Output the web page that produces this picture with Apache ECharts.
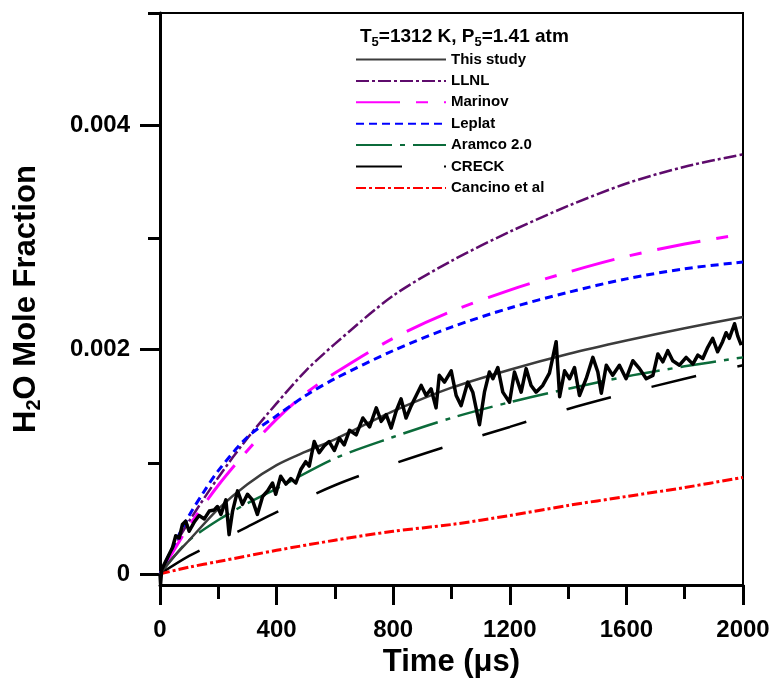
<!DOCTYPE html>
<html>
<head>
<meta charset="utf-8">
<script src="https://cdn.jsdelivr.net/npm/echarts@6/dist/echarts.min.js"></script>
<style>html,body{margin:0;padding:0;background:#fff}#c{width:777px;height:683px}</style>
</head>
<body>
<div id="c"></div>
<script>
// ---- data ----
const xMajorTicks = [0, 400, 800, 1200, 1600, 2000];
const xMinorTicks = [200, 600, 1000, 1400, 1800];
const yMajorTicks = [0, 0.002, 0.004];
const yMinorTicks = [0.001, 0.003, 0.005];

const thisStudy = [[0,0],[50,0.00016],[100,0.0003],[200,0.00058],[300,0.0008],[400,0.00097],[500,0.00109],[600,0.0012],[800,0.00145],[1000,0.00166],[1200,0.00182],[1400,0.00196],[1600,0.00208],[1800,0.00219],[2000,0.00229]];
const llnl = [[0,0],[50,0.00025],[100,0.00047],[200,0.00086],[300,0.00121],[400,0.00152],[500,0.00181],[600,0.00205],[800,0.00248],[1000,0.00279],[1200,0.00305],[1400,0.00328],[1600,0.00348],[1800,0.00363],[2000,0.00374]];
const marinov = [[0,0],[50,0.00022],[100,0.00043],[200,0.00079],[300,0.0011],[400,0.00138],[500,0.00161],[600,0.00179],[800,0.0021],[1000,0.00234],[1200,0.00253],[1400,0.00269],[1600,0.00283],[1800,0.00294],[2000,0.00303]];
const leplat = [[0,0],[50,0.00027],[100,0.00052],[150,0.00073],[200,0.00092],[300,0.00122],[400,0.00141],[500,0.00159],[600,0.00174],[800,0.00199],[1000,0.0022],[1200,0.00237],[1400,0.00251],[1600,0.00263],[1800,0.00272],[2000,0.00278]];
const aramco = [[0,0],[50,0.00016],[100,0.0003],[200,0.00048],[300,0.00063],[400,0.00076],[600,0.00103],[800,0.00122],[1000,0.00139],[1200,0.00153],[1400,0.00165],[1600,0.00176],[1800,0.00185],[2000,0.00193]];
const creck = [[0,0],[100,0.00016],[200,0.00029],[300,0.00042],[400,0.00055],[600,0.00079],[800,0.00098],[1000,0.00115],[1200,0.00131],[1400,0.00147],[1600,0.00161],[1800,0.00174],[2000,0.00186]];
const cancino = [[0,0],[100,0.00006],[200,0.00011],[400,0.00021],[600,0.0003],[800,0.00038],[1000,0.00044],[1200,0.00052],[1400,0.00061],[1600,0.00069],[1800,0.00077],[2000,0.00086]];
const experiment = [[0,0],[2,-0.00009],[6,0.00004],[26,0.000146],[43,0.000235],[54,0.00034],[66,0.00032],[77,0.00044],[88,0.00047],[100,0.00038],[117,0.00046],[134,0.00052],[152,0.00049],[169,0.00056],[186,0.00057],[197,0.0006],[209,0.00053],[226,0.00066],[237,0.00035],[249,0.00056],[266,0.00074],[283,0.00062],[300,0.00071],[317,0.00066],[334,0.00053],[352,0.00069],[369,0.00074],[386,0.00081],[397,0.00071],[414,0.00087],[432,0.0008],[449,0.00085],[466,0.00081],[483,0.00093],[500,0.001],[512,0.00096],[529,0.00118],[546,0.00108],[563,0.00114],[580,0.00118],[598,0.0011],[615,0.00121],[632,0.00115],[650,0.00128],[673,0.00124],[696,0.00139],[719,0.00131],[742,0.00148],[759,0.00136],[776,0.00142],[793,0.0013],[810,0.00145],[827,0.00156],[844,0.00139],[862,0.0015],[879,0.00159],[896,0.00168],[913,0.00159],[930,0.00165],[947,0.00148],[958,0.00177],[976,0.00171],[999,0.00181],[1016,0.00159],[1033,0.0015],[1056,0.00171],[1073,0.00162],[1096,0.00133],[1113,0.00162],[1130,0.0018],[1142,0.00174],[1159,0.00184],[1176,0.00162],[1199,0.00153],[1216,0.0018],[1239,0.00162],[1256,0.00183],[1273,0.00168],[1290,0.00162],[1313,0.00168],[1336,0.00179],[1359,0.00207],[1371,0.00158],[1388,0.00181],[1405,0.00174],[1422,0.00184],[1439,0.00159],[1462,0.00174],[1485,0.00193],[1502,0.0018],[1514,0.00161],[1531,0.00186],[1553,0.00177],[1576,0.00186],[1599,0.00174],[1622,0.0019],[1645,0.00183],[1668,0.00174],[1691,0.00177],[1708,0.00196],[1725,0.00189],[1742,0.00199],[1759,0.0019],[1782,0.00186],[1805,0.00193],[1828,0.00187],[1845,0.00195],[1862,0.00192],[1879,0.00202],[1896,0.0021],[1913,0.00198],[1930,0.00207],[1942,0.00215],[1953,0.0021],[1971,0.00223],[1982,0.00212],[1994,0.00204]];

const legendNames = ['This study','LLNL','Marinov','Leplat','Aramco 2.0','CRECK','Cancino et al'];

// ---- chart ----
const FONT = '"Liberation Sans", Arial, sans-serif';
const chart = echarts.init(document.getElementById('c'), null, {renderer: 'canvas'});
const gridRect = {left: 160, right: 34, top: 13, bottom: 96};

function line(name, data, color, width, dash, z, smooth) {
  return {
    name: name, type: 'line', data: data, xAxisIndex: 0, yAxisIndex: 0,
    showSymbol: false, symbol: 'none', smooth: smooth === undefined ? 0.3 : smooth, animation: false, z: z || 2,
    lineStyle: {color: color, width: width, type: dash || 'solid'},
    itemStyle: {color: color}
  };
}

chart.setOption({
  animation: false,
  backgroundColor: '#fff',
  title: {
    left: 355, top: 20,
    text: '{b|T}{s|5}{b|=1312 K, P}{s|5}{b|=1.41 atm}',
    textStyle: {
      rich: {
        b: {fontFamily: FONT, fontWeight: 'bold', fontSize: 19, color: '#000', lineHeight: 24},
        s: {fontFamily: FONT, fontWeight: 'bold', fontSize: 13, color: '#000', lineHeight: 13, verticalAlign: 'bottom'}
      }
    }
  },
  legend: {
    data: legendNames,
    orient: 'vertical', left: 350, top: 47,
    itemWidth: 90, itemHeight: 14, itemGap: 6.4,
    itemStyle: {opacity: 0},
    textStyle: {fontFamily: FONT, fontWeight: 'bold', fontSize: 15, color: '#000'},
    selectedMode: false
  },
  grid: [
    Object.assign({show: true, borderColor: '#000', borderWidth: 2, backgroundColor: 'transparent'}, gridRect),
    Object.assign({show: false}, gridRect)
  ],
  xAxis: [
    {
      type: 'value', gridIndex: 0, min: 0, max: 2000, position: 'bottom',
      name: 'Time (\u03bcs)', nameLocation: 'middle', nameGap: 60,
      nameTextStyle: {fontFamily: FONT, fontWeight: 'bold', fontSize: 31, color: '#000'},
      axisLine: {show: true, onZero: false, lineStyle: {color: '#000', width: 3}},
      axisTick: {show: true, inside: false, length: 20, customValues: xMajorTicks, lineStyle: {color: '#000', width: 3}},
      axisLabel: {customValues: xMajorTicks, margin: 33, fontFamily: FONT, fontWeight: 'bold', fontSize: 24, color: '#000',
        formatter: function (v) { return String(v); }},
      splitLine: {show: false}
    },
    {
      type: 'value', gridIndex: 1, min: 0, max: 2000, position: 'bottom',
      axisLine: {show: false, onZero: false},
      axisTick: {show: true, inside: false, length: 12, customValues: xMinorTicks, lineStyle: {color: '#000', width: 3}},
      axisLabel: {show: false}, splitLine: {show: false}
    }
  ],
  yAxis: [
    {
      type: 'value', gridIndex: 0, min: -0.0001, max: 0.005, position: 'left',
      name: 'H{sub|2}O Mole Fraction', nameLocation: 'middle', nameGap: 116,
      nameTextStyle: {
        fontFamily: FONT, fontWeight: 'bold', fontSize: 31, color: '#000', lineHeight: 36,
        rich: {sub: {fontFamily: FONT, fontWeight: 'bold', fontSize: 20, color: '#000', lineHeight: 20, verticalAlign: 'bottom'}}
      },
      axisLine: {show: true, onZero: false, lineStyle: {color: '#000', width: 3}},
      axisTick: {show: true, inside: false, length: 20, customValues: yMajorTicks, lineStyle: {color: '#000', width: 3}},
      axisLabel: {customValues: yMajorTicks, margin: 30, fontFamily: FONT, fontWeight: 'bold', fontSize: 24, color: '#000',
        formatter: function (v) { return v === 0 ? '0' : v.toFixed(3); }},
      splitLine: {show: false}
    },
    {
      type: 'value', gridIndex: 1, min: -0.0001, max: 0.005, position: 'left',
      axisLine: {show: false, onZero: false},
      axisTick: {show: true, inside: false, length: 12, customValues: yMinorTicks, lineStyle: {color: '#000', width: 3}},
      axisLabel: {show: false}, splitLine: {show: false}
    }
  ],
  series: [
    line('This study', thisStudy, '#3c3c3c', 2.5, 'solid', 3),
    line('LLNL', llnl, '#5e0b6c', 2.5, [13, 3, 3, 3], 2),
    line('Marinov', marinov, '#ff00ff', 3, [44, 16, 12, 16], 2),
    line('Leplat', leplat, '#0000ff', 3, [8, 5], 2),
    line('Aramco 2.0', aramco, '#0b6b3a', 2.5, [36, 8, 5, 8], 2),
    line('CRECK', creck, '#000000', 2.5, [46, 42], 2),
    line('Cancino et al', cancino, '#ff0000', 3, [10, 3, 3, 3], 2),
    Object.assign(line('Experiment', experiment, '#000000', 3.5, 'solid', 5, false), {lineStyle: {color: '#000', width: 3.5, join: 'round'}})
  ]
});
</script>
</body>
</html>
